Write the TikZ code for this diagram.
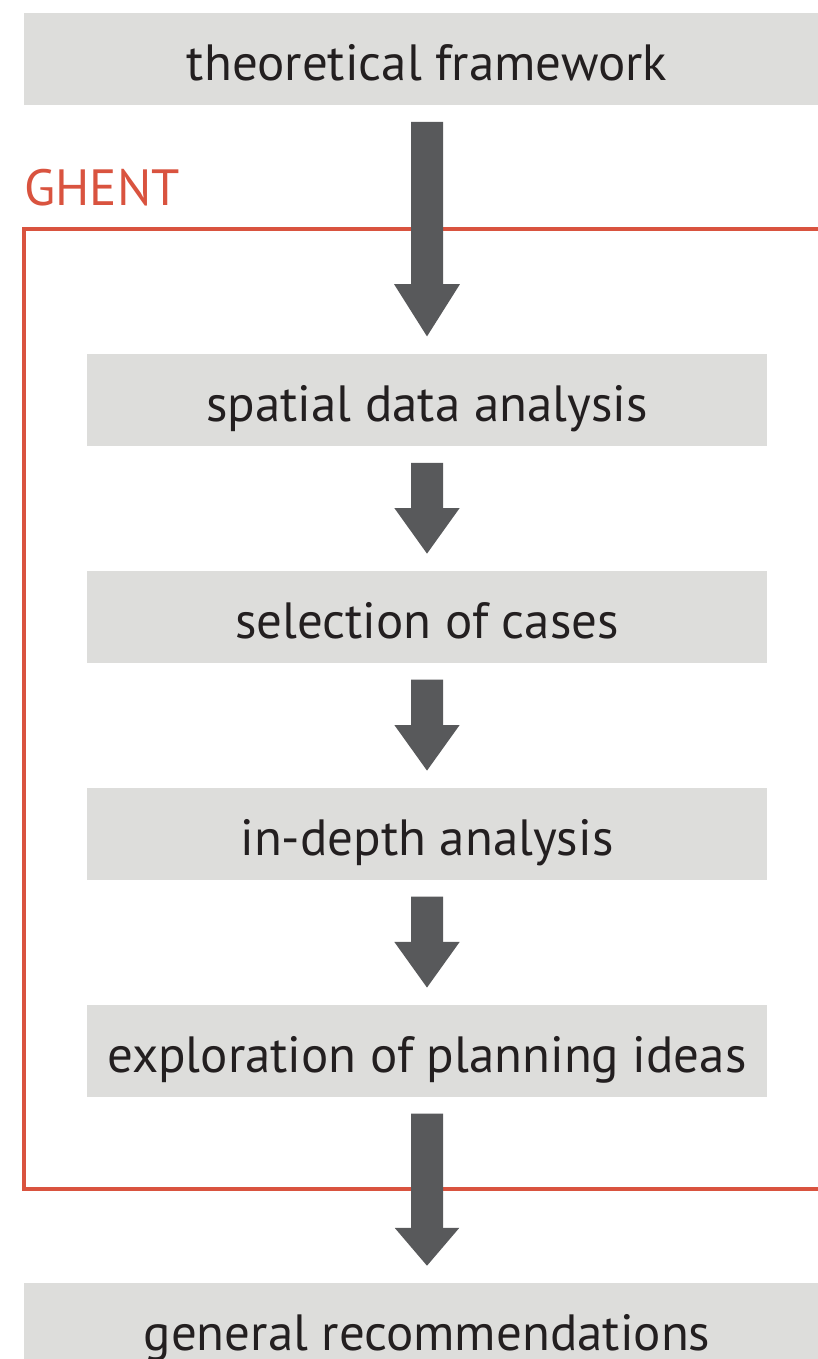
\documentclass[tikz,border=0pt]{standalone}
\usepackage{fontspec}
\setmainfont{PT Sans}
\usetikzlibrary{arrows.meta}

\definecolor{boxgray}{HTML}{DDDDDB}
\definecolor{arrowgray}{HTML}{58595B}
\definecolor{ghentred}{HTML}{D9533F}
\definecolor{textblack}{HTML}{231F20}

\begin{document}
\begin{tikzpicture}[
		x=0.02cm, y=-0.02cm,
		grow=down,
		parent anchor=south, child anchor=north,
		flow/.style={-{Triangle[width=1.24cm, length=#1]}},
		flow/.default=0.92cm,
		level/.style={level distance=4.34cm, flow},
		level 1/.style={level distance=6.82cm, flow=1.06cm},
		level 5/.style={level distance=5.56cm, flow=0.76cm},
		edge from parent/.style={draw=arrowgray, line width=0.64cm, shorten <=0.33cm, shorten >=0.33cm},
		stepbox/.style={fill=boxgray, text=textblack, inner sep=0pt,
			minimum width=13.62cm, minimum height=1.84cm,
			text height=1.1cm, text depth=0.22cm, font=\fontsize{29}{35}\selectfont},
		endbox/.style={stepbox, minimum width=16.12cm}
	]
	\useasboundingbox (0,0) rectangle (818,1359);

	% case study frame
	\draw[ghentred, line width=0.08cm] (840,229) -- (24,229) -- (24,1189) -- (840,1189);
	\node[anchor=base west, inner sep=0pt, text=ghentred, font=\fontsize{29}{35}\selectfont] (ghent) at (24,205) {GHENT};

	\node[endbox] (theory) at (427,59) {theoretical framework}
	child {node[stepbox] (spatial) {spatial data analysis}
		child {node[stepbox] (cases) {selection of cases}
			child {node[stepbox] (depth) {in-depth analysis}
				child {node[stepbox] (ideas) {exploration of planning ideas}
					child {node[endbox] (general) {general recommendations}}
				}
			}
		}
	};
\end{tikzpicture}
\end{document}
